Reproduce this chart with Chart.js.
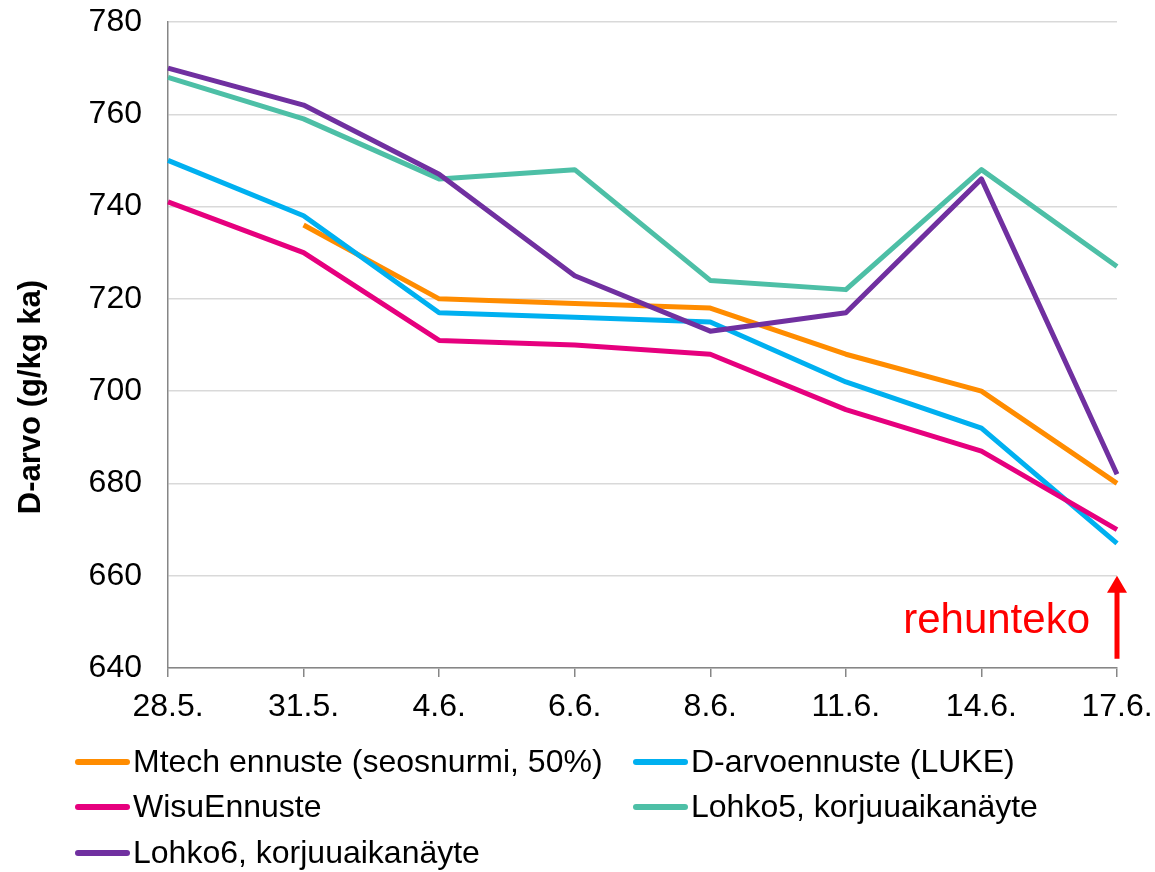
<!DOCTYPE html>
<html>
<head>
<meta charset="utf-8">
<script src="https://cdn.jsdelivr.net/npm/chart.js@4/dist/chart.umd.min.js"></script>
<style>
html,body{margin:0;padding:0;background:#fff;}
#wrap{width:1155px;height:872px;}
</style>
</head>
<body>
<div id="wrap"><canvas id="c" width="1155" height="872"></canvas></div>
<script>
const categories = ["28.5.", "31.5.", "4.6.", "6.6.", "8.6.", "11.6.", "14.6.", "17.6."];
const mtech  = [null, 736, 720, 719, 718, 708, 700, 680];
const luke   = [750, 738, 717, 716, 715, 702, 692, 667];
const wisu   = [741, 730, 711, 710, 708, 696, 687, 670];
const lohko5 = [768, 759, 746, 748, 724, 722, 748, 727];
const lohko6 = [770, 762, 747, 725, 713, 717, 746, 682];
const seriesNames = ["Mtech ennuste (seosnurmi, 50%)", "D-arvoennuste (LUKE)", "WisuEnnuste", "Lohko5, korjuuaikanäyte", "Lohko6, korjuuaikanäyte"];
const seriesColors = ["#FF8C00", "#00B0F0", "#E6007E", "#4DBFA6", "#7030A0"];
const yMin = 640, yMax = 780, yStep = 20;
const yTitle = "D-arvo (g/kg ka)";
const noteText = "rehunteko";
const arrowFrom = 642, arrowTo = 660, arrowCategory = 7;

const FONT = "'Liberation Sans', Arial, sans-serif";
const allData = [mtech, luke, wisu, lohko5, lohko6];

const datasets = allData.map((d, i) => ({
  label: seriesNames[i],
  data: d,
  borderColor: seriesColors[i],
  backgroundColor: seriesColors[i],
  borderWidth: 5,
  pointRadius: 0,
  tension: 0,
  fill: false,
  borderJoinStyle: 'round',
  borderCapStyle: 'butt',
  order: allData.length - 1 - i
}));

const extras = {
  id: 'extras',
  afterDraw(chart) {
    const ctx = chart.ctx;
    const xs = chart.scales.x, ys = chart.scales.y;
    const ax = xs.getPixelForValue(arrowCategory);
    const yb = ys.getPixelForValue(arrowFrom);
    const yt = ys.getPixelForValue(arrowTo);
    ctx.save();
    ctx.strokeStyle = '#FF0000';
    ctx.fillStyle = '#FF0000';
    ctx.lineWidth = 5;
    ctx.beginPath();
    ctx.moveTo(ax, yb);
    ctx.lineTo(ax, yt + 14);
    ctx.stroke();
    ctx.beginPath();
    ctx.moveTo(ax, yt);
    ctx.lineTo(ax - 10, yt + 17);
    ctx.lineTo(ax + 10, yt + 17);
    ctx.closePath();
    ctx.fill();
    ctx.font = "42px " + FONT;
    ctx.textAlign = 'right';
    ctx.textBaseline = 'alphabetic';
    ctx.fillText(noteText, ax - 27, yt + 57);
    ctx.restore();

    // y axis title
    ctx.save();
    ctx.translate(31, 397);
    ctx.rotate(-Math.PI / 2);
    ctx.font = "bold 31px " + FONT;
    ctx.fillStyle = '#000';
    ctx.textAlign = 'center';
    ctx.textBaseline = 'middle';
    ctx.fillText(yTitle, 0, 0);
    ctx.restore();

    const rows = [762, 807, 853];
    const cols = [[75, 130], [633, 688]];
    ctx.save();
    ctx.font = "32px " + FONT;
    ctx.textBaseline = 'middle';
    ctx.textAlign = 'left';
    seriesNames.forEach((name, i) => {
      const r = Math.floor(i / 2), c = i % 2;
      const y = rows[r];
      const [x0, x1] = cols[c];
      ctx.strokeStyle = seriesColors[i];
      ctx.lineWidth = 6;
      ctx.lineCap = 'round';
      ctx.beginPath();
      ctx.moveTo(x0 + 3, y);
      ctx.lineTo(x1 - 3, y);
      ctx.stroke();
      ctx.fillStyle = '#000';
      ctx.fillText(name, x1 + 3, y + 1);
    });
    ctx.restore();
  }
};

new Chart(document.getElementById('c'), {
  type: 'line',
  data: { labels: categories, datasets },
  options: {
    responsive: false,
    animation: false,
    layout: { padding: { top: 22, right: 38, bottom: 134, left: 0 } },
    plugins: { legend: { display: false }, tooltip: { enabled: false }, title: { display: false } },
    scales: {
      x: {
        type: 'category',
        offset: false,
        afterFit(s) { s.height = 70; s.paddingLeft = 0; s.paddingRight = 0; },
        grid: { display: true, drawOnChartArea: false, drawTicks: true, tickLength: 9, color: '#868686', lineWidth: 1.5 },
        border: { display: true, color: '#868686', width: 1.5 },
        ticks: { color: '#000', font: { family: FONT, size: 32 }, padding: 11, maxRotation: 0, autoSkip: false }
      },
      y: {
        min: yMin, max: yMax,
        afterFit(s) { s.width = 168; s.paddingTop = 0; s.paddingBottom = 0; },
        ticks: { stepSize: yStep, color: '#000', font: { family: FONT, size: 32 }, padding: 26 },
        grid: { color: '#D9D9D9', lineWidth: 1.5, drawTicks: false },
        border: { display: true, color: '#868686', width: 1.5 },
        title: { display: false }
      }
    }
  },
  plugins: [extras]
});
</script>
</body>
</html>
